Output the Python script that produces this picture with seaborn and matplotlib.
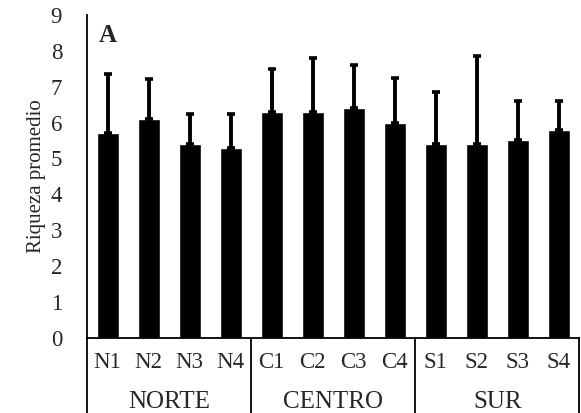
import numpy as np
import pandas as pd
import matplotlib
matplotlib.use("Agg")
import matplotlib.pyplot as plt
import seaborn as sns

# sitios, riqueza promedio y desviacion (solo hacia arriba)
sitios = ["N1", "N2", "N3", "N4", "C1", "C2", "C3", "C4", "S1", "S2", "S3", "S4"]
riqueza = [5.7, 6.1, 5.4, 5.3, 6.3, 6.3, 6.4, 6.0, 5.4, 5.4, 5.5, 5.8]
desvio = [1.65, 1.1, 0.85, 0.95, 1.2, 1.5, 1.2, 1.25, 1.45, 2.45, 1.1, 0.8]
zonas = ["NORTE", "CENTRO", "SUR"]

df = pd.DataFrame({"sitio": sitios, "riqueza": riqueza})

sns.set_style("white")
plt.rcParams["font.family"] = ["Liberation Serif", "DejaVu Serif"]

fig = plt.figure(figsize=(5.81, 4.13), dpi=100)
ax = fig.add_axes([0.15, 0.182, 0.847, 0.782])

sns.barplot(data=df, x="sitio", y="riqueza", color="black", width=0.53,
            errorbar=None, ax=ax)
ax.errorbar(np.arange(len(sitios)), riqueza,
            yerr=[np.zeros(len(desvio)), desvio],
            fmt="none", ecolor="black", elinewidth=2.8, capsize=3.2, capthick=2.6)

ax.set_xlim(-0.5, len(sitios) - 0.5)
ax.set_ylim(0, 9)
ax.set_yticks(range(0, 10))
ax.tick_params(axis="y", labelsize=16.5, length=0, pad=18)
ax.tick_params(axis="x", labelsize=16.5, length=0, pad=10)
ax.set_xlabel("")
ax.set_ylabel("Riqueza promedio", fontsize=15, labelpad=3)

for s in ["top", "right"]:
    ax.spines[s].set_visible(False)
for s in ["left", "bottom"]:
    ax.spines[s].set_color("black")
    ax.spines[s].set_linewidth(1.3)

# separadores de zonas bajo el eje
xt = ax.get_xaxis_transform()
for xs in [-0.5, 3.5, 7.5, 11.5]:
    ax.plot([xs, xs], [0, -0.24], color="black", lw=1.3,
            transform=xt, clip_on=False)
for i, z in enumerate(zonas):
    ax.text(i * 4 + 1.5, -0.2, z, transform=xt, ha="center", va="center",
            fontsize=18)

ax.text(0.024, 0.935, "A", transform=ax.transAxes, fontsize=18,
        fontweight="bold", ha="left", va="center")

fig.savefig("out.png", dpi=100)
